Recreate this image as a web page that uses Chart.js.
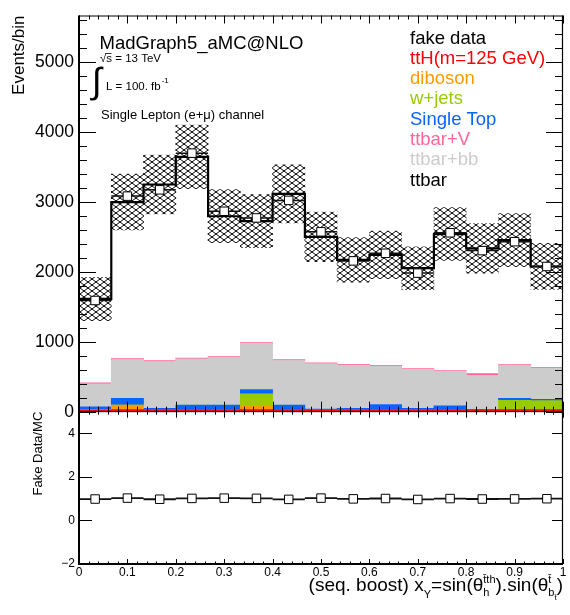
<!DOCTYPE html>
<html><head><meta charset="utf-8">
<script src="https://cdn.jsdelivr.net/npm/chart.js@4.4.0/dist/chart.umd.min.js"></script>
<style>html,body{margin:0;padding:0;background:#fff;}#c{display:block;}</style>
</head><body>
<canvas id="c" width="570" height="615"></canvas>
<script>
// ---------- data ----------
const binEdges   = [0, 0.0667, 0.1333, 0.2, 0.2667, 0.3333, 0.4, 0.4667, 0.5333, 0.6, 0.6667, 0.7333, 0.8, 0.8667, 0.9333, 1];
const binCenters = [0.0333, 0.1, 0.1667, 0.2333, 0.3, 0.3667, 0.4333, 0.5, 0.5667, 0.6333, 0.7, 0.7667, 0.8333, 0.9, 0.9667];
const ttH       = [20, 30, 30, 30, 30, 30, 30, 30, 30, 30, 30, 30, 30, 30, 30];
const diboson   = [3, 65, 3, 3, 3, 45, 3, 3, 3, 3, 3, 3, 3, 3, 3];
const wjets     = [0, 0, 0, 0, 0, 180, 0, 0, 0, 0, 0, 0, 0, 130, 125];
const singleTop = [45, 95, 15, 60, 60, 62, 60, 5, 15, 70, 15, 50, 0, 29, 19];
const ttbarbb   = [332, 557, 670, 663, 682, 661, 640, 650, 618, 549, 557, 494, 488, 469, 446];
const ttbarV    = [13, 12, 12, 12, 12, 12, 12, 12, 12, 12, 12, 12, 25, 12, 12];
const ttbar     = [1201, 2241, 2521, 2880, 2010, 1736, 2373, 1803, 1495, 1580, 1437, 1953, 1792, 1783, 1443];
const mcUnc     = [310, 400, 420, 455, 380, 380, 415, 355, 320, 340, 307, 378, 355, 380, 330];
const fakeData  = [1591, 3085, 3175, 3700, 2868, 2773, 3024, 2574, 2158, 2267, 1983, 2560, 2305, 2433, 2078];

const xTickValues = [0, 0.1, 0.2, 0.3, 0.4, 0.5, 0.6, 0.7, 0.8, 0.9, 1];
const xTickLabels = ['0', '0.1', '0.2', '0.3', '0.4', '0.5', '0.6', '0.7', '0.8', '0.9', '1'];
const yTickValues = [0, 1000, 2000, 3000, 4000, 5000];
const yTickLabels = ['0', '1000', '2000', '3000', '4000', '5000'];
const ratioTickValues = [-2, 0, 2, 4];
const ratioTickLabels = ['\u22122', '0', '2', '4'];

const legendNames = ['fake data', 'ttH(m=125 GeV)', 'diboson', 'w+jets', 'Single Top', 'ttbar+V', 'ttbar+bb', 'ttbar'];

// ---------- derived tables ----------
const comps = [ttH, diboson, wjets, singleTop, ttbarbb, ttbarV, ttbar];
const mcTotal = binCenters.map((_, i) => comps.reduce((s, a) => s + a[i], 0));
const ratio = fakeData.map((d, i) => d / mcTotal[i]);
const catLabels = binCenters.map(String);

const stepPts = binCenters.map((_, i) => ({x: binEdges[i], y: mcTotal[i]}));
stepPts.push({x: binEdges[binEdges.length - 1], y: mcTotal[mcTotal.length - 1]});

function segs(vals) {
  const out = [];
  vals.forEach((v, i) => {
    out.push({x: binEdges[i], y: v});
    out.push({x: binEdges[i + 1], y: v});
    out.push({x: binEdges[i + 1], y: null});
  });
  return out;
}
const dataSegs = segs(fakeData);
const ratioSegs = segs(ratio);
const dataPts = binCenters.map((c, i) => ({x: c, y: fakeData[i]}));
const ratioPts = binCenters.map((c, i) => ({x: c, y: ratio[i]}));
const band = mcTotal.map((t, i) => [t - mcUnc[i], t + mcUnc[i]]);

// ---------- styles ----------
const FONT = "'Liberation Sans', Arial, sans-serif";
const colors = {
  ttH: '#ff0000', diboson: '#ff9900', wjets: '#99cc00', singleTop: '#0a64ff',
  ttbarV: '#ff6699', ttbarbb: '#cccccc', ttbar: '#000000'
};
const legendColors = ['#000000', colors.ttH, colors.diboson, colors.wjets, colors.singleTop, colors.ttbarV, colors.ttbarbb, colors.ttbar];

const canvas = document.getElementById('c');
const ctx0 = canvas.getContext('2d');
function makeHatch() {
  const W = 8, H = 6;
  const t = document.createElement('canvas');
  t.width = W; t.height = H;
  const g = t.getContext('2d');
  g.strokeStyle = '#000';
  g.lineWidth = 1;
  g.beginPath();
  for (let k = -2; k <= 2; k++) {
    g.moveTo(k * W - W, -H); g.lineTo(k * W + 2 * W, 2 * H);
    g.moveTo(k * W + 2 * W, -H); g.lineTo(k * W - W, 2 * H);
  }
  g.stroke();
  return ctx0.createPattern(t, 'repeat');
}
const hatch = makeHatch();

function barDs(label, data, color) {
  return {type: 'bar', label, data, backgroundColor: color, borderWidth: 0,
    xAxisID: 'xb', yAxisID: 'y', stack: 'mc', grouped: false,
    barPercentage: 1, categoryPercentage: 1, order: 10};
}

const datasets = [
  barDs('ttH', ttH, colors.ttH),
  barDs('diboson', diboson, colors.diboson),
  barDs('w+jets', wjets, colors.wjets),
  barDs('Single Top', singleTop, colors.singleTop),
  barDs('ttbar+bb', ttbarbb, colors.ttbarbb),
  barDs('ttbar+V', ttbarV, colors.ttbarV),
  barDs('ttbar', ttbar, 'rgba(0,0,0,0)'),
  {type: 'bar', label: 'MC unc', data: band, backgroundColor: hatch, borderWidth: 0,
   xAxisID: 'xb', yAxisID: 'y', grouped: false, barPercentage: 1, categoryPercentage: 1, order: 5},
  {type: 'line', label: 'MC total', data: stepPts, stepped: true, borderColor: '#000', borderWidth: 2.2,
   pointRadius: 0, fill: false, xAxisID: 'x', yAxisID: 'y', order: 4},
  {type: 'line', label: 'data xerr', data: dataSegs, borderColor: '#111', borderWidth: 1.5, spanGaps: false,
   pointRadius: 0, fill: false, xAxisID: 'x', yAxisID: 'y', order: 3},
  {type: 'line', label: 'fake data', data: dataPts, showLine: false, pointStyle: 'rect', pointRadius: 6,
   pointBackgroundColor: '#fff', pointBorderColor: '#000', pointBorderWidth: 1, xAxisID: 'x', yAxisID: 'y', order: 1},
  {type: 'line', label: 'ratio xerr', data: ratioSegs, borderColor: '#111', borderWidth: 1.8, spanGaps: false,
   pointRadius: 0, fill: false, xAxisID: 'x', yAxisID: 'y2', order: 3},
  {type: 'line', label: 'ratio', data: ratioPts, showLine: false, pointStyle: 'rect', pointRadius: 6,
   pointBackgroundColor: '#fff', pointBorderColor: '#000', pointBorderWidth: 1, xAxisID: 'x', yAxisID: 'y2', order: 1}
];

function line(ctx, x1, y1, x2, y2, w) {
  ctx.lineWidth = w; ctx.beginPath(); ctx.moveTo(x1, y1); ctx.lineTo(x2, y2); ctx.stroke();
}

const decor = {
  id: 'decor',
  afterDatasetsDraw(chart) {
    const ctx = chart.ctx;
    const sx = chart.scales.x, sy = chart.scales.y, sy2 = chart.scales.y2;
    const L = sx.left, R = sx.right;
    ctx.save();
    ctx.strokeStyle = '#000';
    for (let k = 0; k <= 50; k++) {
      const v = k / 50;
      const major = k % 5 === 0;
      const px = Math.round(sx.getPixelForValue(v)) + 0.5;
      line(ctx, px, sy.bottom, px, sy.bottom - (major ? 10 : 5), 1);
      line(ctx, px, sy.top, px, sy.top + (major ? 8 : 4), 1);
      line(ctx, px, sy2.top, px, sy2.top + (major ? 6 : 3), 1);
      line(ctx, px, sy2.bottom, px, sy2.bottom - (major ? 5 : 2.5), 1);
    }
    for (let v = 0; v <= 5600; v += 200) {
      const major = v % 1000 === 0;
      const py = Math.round(sy.getPixelForValue(v)) + 0.5;
      line(ctx, L, py, L + (major ? 17 : 8), py, 1);
      line(ctx, R, py, R - (major ? 17 : 8), py, 1);
    }
    ratioTickValues.forEach(v => {
      const py = Math.round(sy2.getPixelForValue(v)) + 0.5;
      line(ctx, L, py, L + 13, py, 1);
      line(ctx, R, py, R - 11, py, 1);
    });
    line(ctx, L, sy.top, L, sy2.bottom, 2);
    line(ctx, L, sy.top + 0.5, R, sy.top + 0.5, 1);
    line(ctx, R - 0.5, sy.top, R - 0.5, sy2.bottom, 1.2);
    line(ctx, L, sy.bottom, R, sy.bottom, 1);
    line(ctx, L - 1, sy2.bottom, R, sy2.bottom, 2);
    ctx.restore();
  },
  afterDraw(chart) {
    const ctx = chart.ctx;
    const sx = chart.scales.x;
    ctx.save();
    ctx.textBaseline = 'alphabetic';
    ctx.textAlign = 'left';
    ctx.font = '18.5px ' + FONT;
    legendNames.forEach((n, i) => {
      ctx.fillStyle = legendColors[i];
      ctx.fillText(n, 410, 43.5 + i * 20.3);
    });
    ctx.fillStyle = '#000';
    ctx.font = '18.5px ' + FONT;
    ctx.fillText('MadGraph5_aMC@NLO', 99.5, 48.5);
    ctx.font = '11.5px ' + FONT;
    ctx.fillText('\u221As = 13 TeV', 100, 62);
    ctx.lineWidth = 0.8; ctx.strokeStyle = '#000';
    ctx.beginPath(); ctx.moveTo(105.5, 53.5); ctx.lineTo(111.5, 53.5); ctx.stroke();
    ctx.font = '36px ' + FONT;
    ctx.fillText('\u222B', 92, 93);
    ctx.font = '11.5px ' + FONT;
    ctx.fillText('L = 100. fb', 106, 89.5);
    const wL = ctx.measureText('L = 100. fb').width;
    ctx.font = '8px ' + FONT;
    ctx.fillText('-1', 106 + wL + 1, 83);
    ctx.font = '13px ' + FONT;
    ctx.fillText('Single Lepton (e+\u03BC) channel', 101, 118.5);

    const M = '19px ' + FONT, S = '11px ' + FONT, SS = '8px ' + FONT;
    const pieces = [
      [{t: '(seq. boost) x', f: M, dy: 0}],
      [{t: 'Y', f: S, dy: 7}],
      [{t: '=sin(\u03B8', f: M, dy: 0}],
      [{t: 't\u0304th', f: S, dy: -8}, {t: 'h', f: S, dy: 5}],
      [{t: ').sin(\u03B8', f: M, dy: 0}],
      [{t: 't\u0304', f: S, dy: -8}, {t: 'b', f: S, dy: 5, sub: {t: 't\u0304', f: SS, dy: 9}}],
      [{t: ')', f: M, dy: 0}]
    ];
    const widths = pieces.map(grp => Math.max(...grp.map(p => {
      ctx.font = p.f; let w = ctx.measureText(p.t).width;
      if (p.sub) { ctx.font = p.sub.f; w += ctx.measureText(p.sub.t).width; }
      return w;
    })));
    const total = widths.reduce((a, b) => a + b, 0);
    let x = sx.right - total;
    const base = 591;
    pieces.forEach((grp, gi) => {
      grp.forEach(p => {
        ctx.font = p.f;
        ctx.fillText(p.t, x, base + p.dy);
        if (p.sub) {
          const w = ctx.measureText(p.t).width;
          ctx.font = p.sub.f;
          ctx.fillText(p.sub.t, x + w, base + p.sub.dy);
        }
      });
      x += widths[gi];
    });
    ctx.restore();
  }
};

new Chart(canvas, {
  type: 'bar',
  data: {labels: catLabels, datasets},
  options: {
    responsive: false,
    animation: false,
    devicePixelRatio: 1,
    layout: {padding: {left: 0, right: 7, top: 12, bottom: 0}},
    plugins: {legend: {display: false}, tooltip: {enabled: false}},
    scales: {
      xb: {type: 'category', axis: 'x', position: 'bottom', labels: catLabels, display: false,
           offset: true, stacked: true},
      x: {type: 'linear', position: 'bottom', min: 0, max: 1, offset: false,
          afterBuildTicks: s => { s.ticks = xTickValues.map(v => ({value: v})); },
          afterFit: s => { s.height = 51; },
          grid: {display: false, drawTicks: false, offset: false}, border: {display: false},
          ticks: {font: {family: FONT, size: 12}, color: '#000', padding: 1, maxRotation: 0, autoSkip: false,
                  callback: (v, i) => xTickLabels[i]}},
      y2: {type: 'linear', position: 'left', stack: 'panels', stackWeight: 153.3, min: -2, max: 5,
           afterBuildTicks: s => { s.ticks = ratioTickValues.map(v => ({value: v})); },
           afterFit: s => { s.width = 79; },
           grid: {display: false, drawTicks: false}, border: {display: false},
           ticks: {font: {family: FONT, size: 12}, color: '#000', padding: 4,
                   callback: (v, i) => ratioTickLabels[i]},
           title: {display: true, text: 'Fake Data/MC', align: 'end', color: '#000',
                   font: {family: FONT, size: 13}, padding: {top: 31, bottom: 0}}},
      y: {type: 'linear', position: 'left', stack: 'panels', stackWeight: 398.7, min: 0, max: 5670,
          afterBuildTicks: s => { s.ticks = yTickValues.map(v => ({value: v})); },
          afterFit: s => { s.width = 79; },
          grid: {display: false, drawTicks: false}, border: {display: false},
          ticks: {font: {family: FONT, size: 17.5}, color: '#000', padding: 5,
                  callback: (v, i) => yTickLabels[i]},
          title: {display: true, text: 'Events/bin', align: 'end', color: '#000',
                  font: {family: FONT, size: 17}, padding: {top: 8.8, bottom: 0}}}
    }
  },
  plugins: [decor]
});
</script>
</body></html>
